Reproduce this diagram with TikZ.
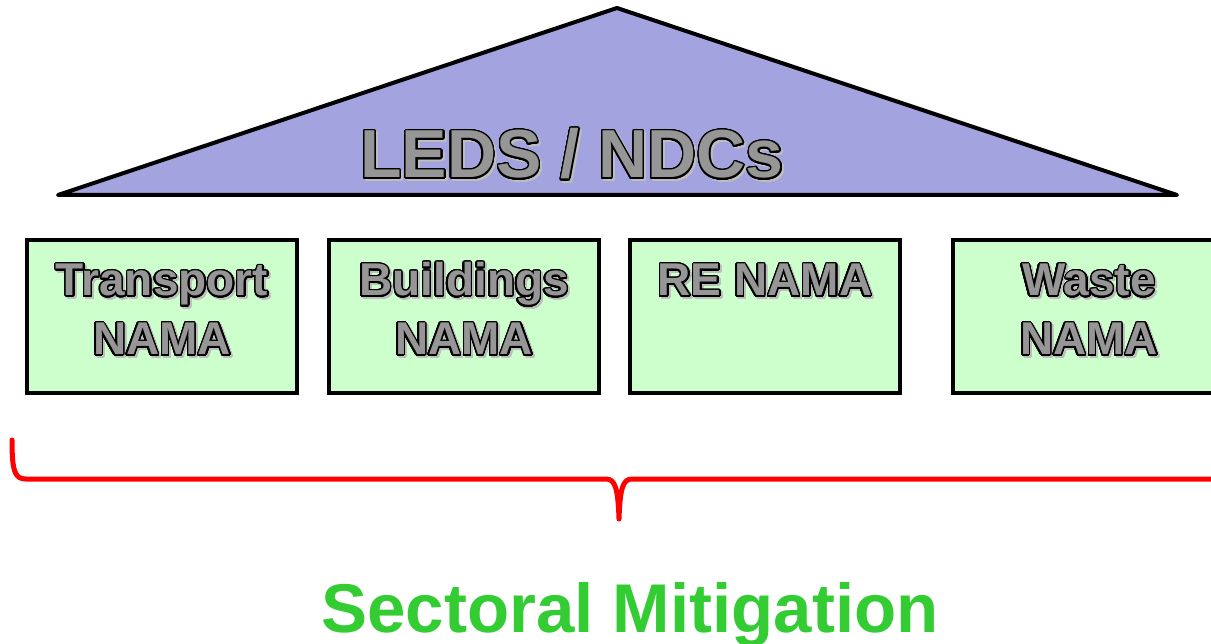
\documentclass[tikz,border=0pt]{standalone}
\usepackage{fontspec}
\setmainfont{Liberation Sans}
\usepackage{contour}
\contourlength{1.4pt}
\contournumber{32}
\definecolor{trifill}{RGB}{163,163,223}
\definecolor{boxfill}{RGB}{204,255,204}
\definecolor{wagray}{RGB}{150,150,150}
\definecolor{shadowc}{RGB}{110,110,110}
\definecolor{secgreen}{RGB}{51,204,51}
\definecolor{bracered}{RGB}{255,0,0}
\newcommand{\wordart}[1]{\rlap{\hspace{2pt}\raisebox{-2pt}{\color{shadowc!45}\contour{shadowc!45}{#1}}}{\color{wagray}\contour{black}{#1}}}
\tikzset{
  x=1pt, y=-1pt,
  sectorbox/.style={draw=black, line width=4pt, fill=boxfill, minimum width=270pt, minimum height=153pt, inner sep=0pt},
  boxlabel/.style={font=\fontsize{46}{59}\selectfont\bfseries, align=center, inner sep=0pt},
  bigtitle/.style={font=\fontsize{68}{68}\selectfont\bfseries, inner sep=0pt},
  roof/.style={draw=black, line width=4pt, fill=trifill, line join=round},
  bracestyle/.style={draw=bracered, line width=5pt, line cap=round, line join=round},
  sectext/.style={font=\fontsize{69}{69}\selectfont\bfseries, text=secgreen, inner sep=0pt}
}
\begin{document}
\begin{tikzpicture}
\useasboundingbox (0,0) rectangle (1211,644);
\clip (0,0) rectangle (1211,644);
% roof
\coordinate (apex) at (617,8);
\coordinate (bl) at (58,195);
\coordinate (br) at (1177,195);
\path[roof] (bl) -- (apex) -- (br) -- cycle;
\node[bigtitle, anchor=base] (title) at (572,178) {\wordart{LEDS / NDCs}};
% boxes
\node[sectorbox] (b1) at (162,316.5) {};
\node[sectorbox] (b2) at (464,316.5) {};
\node[sectorbox] (b3) at (765,316.5) {};
\node[sectorbox, minimum width=300pt] (b4) at (1103,316.5) {};
\node[boxlabel, anchor=base] (l1) at (162,355) {\wordart{Transport}\\\wordart{NAMA}};
\node[boxlabel, anchor=base] (l2) at (464,355) {\wordart{Buildings}\\\wordart{NAMA}};
\node[boxlabel, anchor=base] (l3) at (765,296) {\wordart{RE NAMA}};
\node[boxlabel, anchor=base] (l4) at (1089,355) {\wordart{Waste}\\\wordart{NAMA}};
% brace
\coordinate (bstart) at (12,440);
\coordinate (btip) at (619,519);
\coordinate (bend) at (1240,479);
\draw[bracestyle] (bstart) .. controls (12,472) and (15,479) .. (26,479) -- (606,479)
  .. controls (615,479) and (618,488) .. (btip)
  .. controls (620,488) and (623,479) .. (632,479) -- (bend);
\node[sectext, anchor=base] (sec) at (630,632) {Sectoral Mitigation};
\end{tikzpicture}
\end{document}
